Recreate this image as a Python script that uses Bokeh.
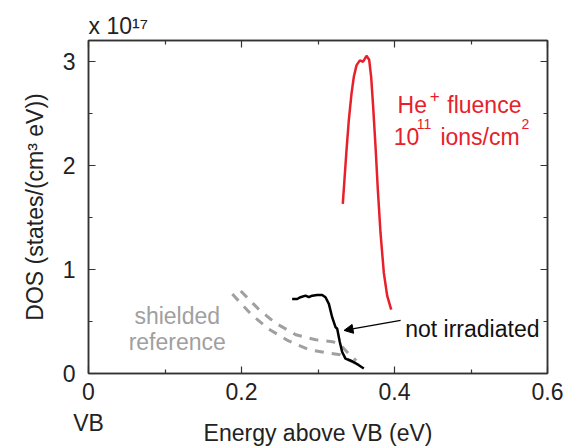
from bokeh.plotting import figure
from bokeh.models import (Range1d, LinearAxis, FixedTicker, Label, Arrow, NormalHead,
                          CustomJSTickFormatter, Title)
from bokeh.embed import file_html
from bokeh.resources import INLINE

# ---- data (DOS in units of 1e17 states/(cm^3 eV)) ----
he_energy = [0.3324, 0.3346, 0.3373, 0.3403, 0.3438, 0.3468, 0.3503, 0.3547, 0.3590,
             0.3634, 0.3669, 0.3695, 0.3721, 0.3752, 0.3782, 0.3817, 0.3860, 0.3904, 0.3957]
he_dos = [1.630, 1.862, 2.149, 2.436, 2.690, 2.849, 2.961, 3.009, 2.996,
          3.053, 3.015, 2.849, 2.563, 2.181, 1.767, 1.353, 0.971, 0.748, 0.614]

ni_energy = [0.2662, 0.2728, 0.2771, 0.2837, 0.2880, 0.2924, 0.2989, 0.3055, 0.3098, 0.3142,
             0.3185, 0.3229, 0.3251, 0.3285, 0.3316, 0.3359, 0.3447, 0.3534, 0.3599]
ni_dos = [0.716, 0.716, 0.733, 0.748, 0.733, 0.748, 0.755, 0.755, 0.733, 0.669,
          0.541, 0.446, 0.430, 0.303, 0.207, 0.143, 0.118, 0.080, 0.048]

sh1_energy = [0.188, 0.212, 0.235, 0.261, 0.288, 0.310, 0.329, 0.342, 0.352]
sh1_dos = [0.764, 0.573, 0.430, 0.315, 0.229, 0.201, 0.181, 0.124, 0.086]

sh2_energy = [0.199, 0.222, 0.244, 0.271, 0.297, 0.319, 0.329, 0.340, 0.350]
sh2_dos = [0.793, 0.621, 0.487, 0.372, 0.325, 0.306, 0.277, 0.191, 0.124]

x_ticks = [0, 0.2, 0.4, 0.6]
x_tick_labels = {0: "0\nVB", 0.2: "0.2", 0.4: "0.4", 0.6: "0.6"}
x_minor = [0.1, 0.3, 0.5]
y_ticks = [0, 1, 2, 3]
y_minor = [0.5, 1.5, 2.5]

FONT = "Liberation Sans"
RED = "#e8202a"
GRAY = "#a0a0a0"
AX = "#333333"

p = figure(width=573, height=448, output_backend="svg", toolbar_location=None,
           x_range=Range1d(0, 0.6), y_range=Range1d(0, 3.2),
           min_border_left=88, min_border_right=26, min_border_top=40, min_border_bottom=73,
           x_axis_label="Energy above VB (eV)", y_axis_label="DOS (states/(cm³ eV))")
p.xgrid.visible = False
p.ygrid.visible = False
p.outline_line_color = AX
p.outline_line_width = 1.5
p.background_fill_color = "white"
p.border_fill_color = "white"

def style_axis(ax, labels=True):
    ax.axis_line_color = AX
    ax.axis_line_width = 1.5
    ax.major_tick_line_color = AX
    ax.minor_tick_line_color = AX
    ax.major_tick_line_width = 1.2
    ax.minor_tick_line_width = 1.2
    ax.major_tick_in = 7
    ax.major_tick_out = 0
    ax.minor_tick_in = 4
    ax.minor_tick_out = 0
    if labels:
        ax.major_label_text_font = FONT
        ax.major_label_text_font_size = "23px"
        ax.major_label_text_color = "#222222"
        ax.axis_label_text_font = FONT
        ax.axis_label_text_font_size = "23px"
        ax.axis_label_text_font_style = "normal"
        ax.axis_label_text_color = "#222222"
    else:
        ax.formatter = CustomJSTickFormatter(code="return ''")
        ax.major_label_standoff = 0

p.xaxis.ticker = FixedTicker(ticks=x_ticks, minor_ticks=x_minor)
p.yaxis.ticker = FixedTicker(ticks=y_ticks, minor_ticks=y_minor)
p.xaxis.major_label_overrides = x_tick_labels
for ax in p.xaxis:
    style_axis(ax)
    ax.major_label_standoff = 5
    ax.axis_label_standoff = -19
for ax in p.yaxis:
    style_axis(ax)
    ax.major_label_standoff = 13
    ax.axis_label_standoff = 12

top = LinearAxis(ticker=FixedTicker(ticks=x_ticks, minor_ticks=x_minor))
right = LinearAxis(ticker=FixedTicker(ticks=y_ticks, minor_ticks=y_minor))
style_axis(top, labels=False)
style_axis(right, labels=False)
p.add_layout(top, "above")
p.add_layout(right, "right")

p.add_layout(Title(text="x 10¹⁷", align="left", text_font=FONT, text_font_size="23px",
                   text_font_style="normal", text_color="#222222", offset=0, standoff=4),
             "above")

# ---- curves ----
p.line(sh1_energy, sh1_dos, line_color=GRAY, line_width=3, line_dash="9 8")
p.line(sh2_energy, sh2_dos, line_color=GRAY, line_width=3, line_dash="9 8")
p.line(ni_energy, ni_dos, line_color="black", line_width=2.5)
p.line(he_energy, he_dos, line_color=RED, line_width=2.5)

# ---- annotations ----
def lab(x, y, t, size, color, align="left"):
    p.add_layout(Label(x=x, y=y, text=t, text_font=FONT, text_font_size=size,
                       text_color=color, text_align=align, text_baseline="alphabetic"))

lab(0.404, 2.579, "He", "23px", RED)
lab(0.446, 2.665, "+", "17px", RED)
lab(0.469, 2.579, "fluence", "23px", RED)
lab(0.399, 2.273, "10", "23px", RED)
lab(0.429, 2.40, "11", "14px", RED)
lab(0.460, 2.273, "ions/cm", "23px", RED)
lab(0.566, 2.40, "2", "14px", RED)

lab(0.116, 0.554, "shielded", "23px", GRAY, align="center")
lab(0.116, 0.306, "reference", "23px", GRAY, align="center")

lab(0.414, 0.43, "not irradiated", "23px", "#111111")
p.add_layout(Arrow(end=NormalHead(size=9, fill_color="black", line_color="black", line_width=1),
                   x_start=0.408, y_start=0.51, x_end=0.334, y_end=0.414,
                   line_color="black", line_width=1.2))

open("out.html", "w").write(file_html(p, INLINE))
